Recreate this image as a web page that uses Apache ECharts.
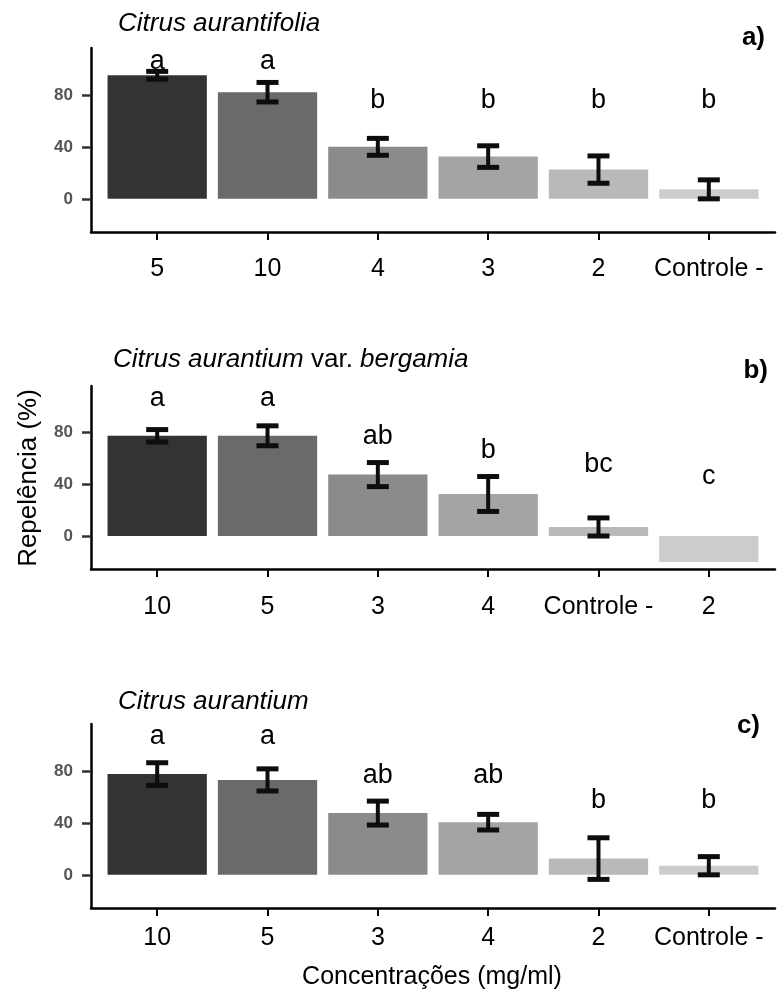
<!DOCTYPE html>
<html>
<head>
<meta charset="utf-8">
<script src="https://cdn.jsdelivr.net/npm/echarts@6/dist/echarts.min.js"></script>
<style>
  html, body { margin: 0; padding: 0; background: #ffffff; }
  #chart { width: 779px; height: 992px; }
</style>
</head>
<body>
<div id="chart"></div>
<script>
// Panel a) Citrus aurantifolia
const catsA = ['5', '10', '4', '3', '2', 'Controle -'];
const meanA = [95, 82, 40, 32.5, 22.5, 7.3];
const sdA = [3, 7.5, 6.5, 8.3, 10.5, 7.3];
const lettersA = ['a', 'a', 'b', 'b', 'b', 'b'];
const letterYA = [105.2, 105.2, 75.6, 75.6, 75.6, 75.6];

// Panel b) Citrus aurantium var. bergamia
const catsB = ['10', '5', '3', '4', 'Controle -', '2'];
const meanB = [77.5, 77.5, 47.5, 32.5, 7, -20];
const sdB = [4.8, 7.7, 9.3, 13.5, 7, null];
const lettersB = ['a', 'a', 'ab', 'b', 'bc', 'c'];
const letterYB = [106.0, 106.0, 77.1, 65.9, 55.5, 45.8];

// Panel c) Citrus aurantium
const catsC = ['10', '5', '3', '4', '2', 'Controle -'];
const meanC = [77.5, 73, 47.5, 40.5, 12.5, 7];
const sdC = [8.7, 8.5, 9.2, 6, 16, 7];
const lettersC = ['a', 'a', 'ab', 'ab', 'b', 'b'];
const letterYC = [106.4, 106.4, 76.7, 76.7, 56.8, 56.8];

const yTicks = [0, 40, 80];
const greys = ['#333333', '#6a6a6a', '#8b8b8b', '#a4a4a4', '#b9b9b9', '#cccccc'];

const FONT = '"Liberation Sans", Arial, sans-serif';
const chart = echarts.init(document.getElementById('chart'), null, { renderer: 'canvas' });

const GRID_LEFT = 91, GRID_W = 684;
const X_MIN = -0.6, X_MAX = 5.6;
const barW = 0.9 * GRID_W / (X_MAX - X_MIN);

const panels = [
  { cats: catsA, mean: meanA, sd: sdA, letters: lettersA, ly: letterYA, top: 48, height: 184, labelGap: 25 },
  { cats: catsB, mean: meanB, sd: sdB, letters: lettersB, ly: letterYB, top: 386, height: 183, labelGap: 26 },
  { cats: catsC, mean: meanC, sd: sdC, letters: lettersC, ly: letterYC, top: 724, height: 184, labelGap: 18 }
];

const grid = [], xAxis = [], yAxis = [], series = [];

panels.forEach((p, k) => {
  grid.push({ left: GRID_LEFT, top: p.top, width: GRID_W, height: p.height, containLabel: false });
  xAxis.push({
    type: 'value', gridIndex: k, min: X_MIN, max: X_MAX,
    splitLine: { show: false },
    axisLine: { show: true, onZero: false, lineStyle: { color: '#000', width: 2.5 } },
    axisTick: { show: true, length: 8, customValues: [0, 1, 2, 3, 4, 5], lineStyle: { color: '#000', width: 2 } },
    axisLabel: {
      show: true, margin: p.labelGap, fontSize: 25, color: '#000', fontFamily: FONT,
      customValues: [0, 1, 2, 3, 4, 5],
      formatter: (v) => p.cats[Math.round(v)]
    }
  });
  yAxis.push({
    type: 'value', gridIndex: k, min: -25.5, max: 116,
    splitLine: { show: false },
    axisLine: { show: true, onZero: false, lineStyle: { color: '#000', width: 2.5 } },
    axisTick: { show: true, length: 9, customValues: yTicks, lineStyle: { color: '#333', width: 2.5 } },
    axisLabel: {
      show: true, margin: 18, fontSize: 17, fontWeight: 'bold', color: '#555555', fontFamily: FONT,
      customValues: yTicks
    }
  });

  // bars
  series.push({
    type: 'bar', xAxisIndex: k, yAxisIndex: k, barWidth: barW, z: 2,
    data: p.mean.map((v, i) => ({ value: [i, v], itemStyle: { color: greys[i] } })),
    silent: true, animation: false
  });

  // error bars (mean ± sd), drawn above the bars
  series.push({
    type: 'custom', xAxisIndex: k, yAxisIndex: k, animation: false, silent: true, z: 5,
    data: p.mean.map((v, i) => [i, v, p.sd[i]]),
    renderItem: (params, api) => {
      const i = api.value(0), m = api.value(1), s = api.value(2);
      if (s === null || isNaN(s)) return null;
      const hi = api.coord([i, m + s]);
      const lo = api.coord([i, m - s]);
      const hw = 11;
      const st = { stroke: '#0d0d0d', lineWidth: 5 };
      return {
        type: 'group',
        children: [
          { type: 'line', shape: { x1: hi[0], y1: hi[1], x2: lo[0], y2: lo[1] }, style: Object.assign({}, st, { lineWidth: 4 }) },
          { type: 'line', shape: { x1: hi[0] - hw, y1: hi[1], x2: hi[0] + hw, y2: hi[1] }, style: st },
          { type: 'line', shape: { x1: lo[0] - hw, y1: lo[1], x2: lo[0] + hw, y2: lo[1] }, style: st }
        ]
      };
    }
  });

  // significance letters
  series.push({
    type: 'custom', xAxisIndex: k, yAxisIndex: k, animation: false, silent: true, z: 6,
    data: p.letters.map((t, i) => [i, p.ly[i]]),
    renderItem: (params, api) => {
      const c = api.coord([api.value(0), api.value(1)]);
      return {
        type: 'text', x: c[0], y: c[1],
        style: {
          text: p.letters[params.dataIndex], fill: '#000',
          font: '27px ' + FONT, align: 'center', verticalAlign: 'middle'
        }
      };
    }
  });
});

const title = [
  { text: 'Citrus aurantifolia', left: 118, top: 11, padding: 0,
    textStyle: { fontFamily: FONT, fontSize: 26, fontStyle: 'italic', fontWeight: 'normal', color: '#000' } },
  { text: '{i|Citrus aurantium} var. {i|bergamia}', left: 113, top: 347, padding: 0,
    textStyle: { fontFamily: FONT, fontSize: 26, fontWeight: 'normal', color: '#000',
      rich: { i: { fontFamily: FONT, fontSize: 26, fontStyle: 'italic', color: '#000' } } } },
  { text: 'Citrus aurantium', left: 118, top: 689, padding: 0,
    textStyle: { fontFamily: FONT, fontSize: 26, fontStyle: 'italic', fontWeight: 'normal', color: '#000' } }
];

const panelTag = (txt, x, y) => ({
  type: 'text', x, y,
  style: { text: txt, font: 'bold 26px ' + FONT, fill: '#000', align: 'right', verticalAlign: 'middle' }
});

const graphic = [
  panelTag('a)', 765, 38),
  panelTag('b)', 768, 371),
  panelTag('c)', 760, 726),
  {
    type: 'text', x: 28.5, y: 478, rotation: Math.PI / 2,
    style: { text: 'Repelência (%)', font: '26px ' + FONT, fill: '#000', align: 'center', verticalAlign: 'middle' }
  },
  {
    type: 'text', x: 432, y: 977,
    style: { text: 'Concentrações (mg/ml)', font: '25px ' + FONT, fill: '#000', align: 'center', verticalAlign: 'middle' }
  }
];

chart.setOption({
  backgroundColor: '#ffffff',
  animation: false,
  title, grid, xAxis, yAxis, series, graphic
});
</script>
</body>
</html>
